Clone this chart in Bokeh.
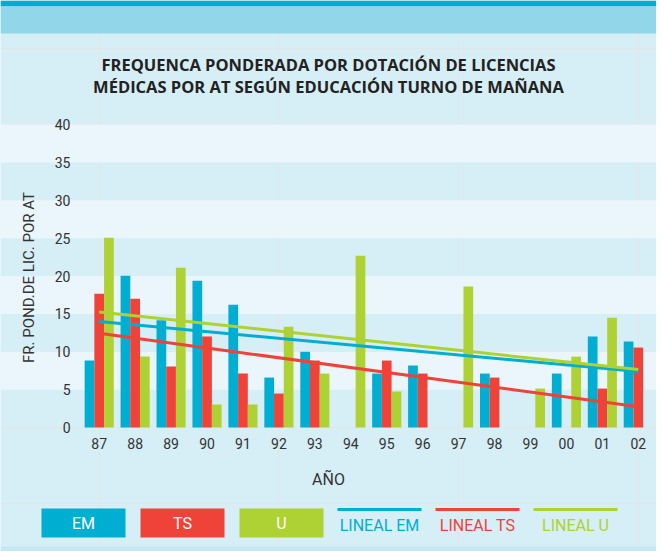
import math
from bokeh.plotting import figure
from bokeh.models import LinearAxis, FixedTicker, Grid, Range1d
from bokeh.core.properties import value
from bokeh.embed import file_html
from bokeh.resources import INLINE

# ---------------- data ----------------
years = ["87", "88", "89", "90", "91", "92", "93", "94", "95", "96", "97", "98", "99", "00", "01", "02"]
em = [8.84, 20.04, 14.15, 19.38, 16.2, 6.59, 10.0, 0, 7.12, 8.18, 0, 7.12, 0, 7.12, 12.0, 11.34]
ts = [17.67, 17.0, 8.04, 12.0, 7.12, 4.48, 8.84, 0, 8.84, 7.12, 0, 6.59, 0, 0, 5.14, 10.55]
u = [25.05, 9.36, 21.1, 3.03, 3.03, 13.3, 7.12, 22.68, 4.75, 0, 18.6, 0, 5.14, 9.36, 14.5, 0]
# linear trend lines (value at first year, value at last year)
lineal_em = [13.98, 7.38]
lineal_ts = [12.44, 2.73]
lineal_u = [15.25, 7.65]
y_ticks = [0, 5, 10, 15, 20, 25, 30, 35, 40]
series_names = ["EM", "TS", "U"]
lineal_names = ["LINEAL EM", "LINEAL TS", "LINEAL U"]

title_lines = ["FREQUENCA PONDERADA POR DOTACIÓN DE LICENCIAS",
               "MÉDICAS POR AT SEGÚN EDUCACIÓN TURNO DE MAÑANA"]
y_label = "FR. POND.DE LIC. POR AT"
x_label = "AÑO"

# ---------------- style ----------------
C_EM = "#00aed1"
C_TS = "#ef4238"
C_U = "#aed133"
PANEL = "#d6eef5"
BAND = "#eaf6fb"
TOP_DARK = "#00acd0"
TOP_LIGHT = "#91d7e9"
BOTTOM = "#c6e8f2"
FONT = "Roboto"
TXT = "#333333"

W, H = 656, 551
STEP = 35.94           # px per category
X0_PX = 98.7           # px of first category centre
Y0_PX = 427.0          # px (from top) of value 0
PX_PER_UNIT = 7.575

X0 = -X0_PX / STEP
X1 = X0 + W / STEP
Y1 = Y0_PX / PX_PER_UNIT
Y0 = Y1 - H / PX_PER_UNIT


def dx(px):
    return X0 + px / W * (X1 - X0)


def dy(py):
    return Y1 - py / H * (Y1 - Y0)


p = figure(width=W, height=H, output_backend="svg", toolbar_location=None,
           x_range=Range1d(X0, X1), y_range=Range1d(Y0, Y1),
           x_axis_location=None, y_axis_location=None,
           min_border=0, min_border_left=0, min_border_right=0,
           min_border_top=0, min_border_bottom=0)
p.outline_line_color = None
p.background_fill_color = PANEL
p.border_fill_color = PANEL

# alternating bands
grid = Grid(dimension=1, ticker=FixedTicker(ticks=y_ticks[1:]))
grid.grid_line_color = None
grid.band_fill_color = BAND
grid.band_fill_alpha = 1.0
p.add_layout(grid)

# top stripes and bottom stripe
p.quad(left=[X0], right=[X1], top=[Y1], bottom=[dy(6)], fill_color=TOP_DARK, line_color=None)
p.quad(left=[X0], right=[X1], top=[dy(6)], bottom=[dy(33)], fill_color=TOP_LIGHT, line_color=None)
p.quad(left=[X0], right=[X1], top=[dy(546)], bottom=[Y0], fill_color=BOTTOM, line_color=None)

# title
p.text(x=[dx(W / 2)] * 2, y=[dy(64), dy(86)], text=title_lines,
       text_font=value("Open Sans"), text_font_size="16.5px", text_font_style="bold",
       text_align="center", text_baseline="middle", text_color="#222222")

# bars
bw = 0.27
idx = list(range(len(years)))
for vals, off, col in [(em, -bw, C_EM), (ts, 0.0, C_TS), (u, bw, C_U)]:
    xs = [i + off for i, v in zip(idx, vals) if v > 0]
    tops = [v for v in vals if v > 0]
    p.vbar(x=xs, top=tops, bottom=0, width=bw, fill_color=col, line_color=None)

# trend lines
for tr, col in [(lineal_em, C_EM), (lineal_ts, C_TS), (lineal_u, C_U)]:
    p.line(x=[idx[0], idx[-1]], y=tr, line_color=col, line_width=3)

# axes
xaxis = LinearAxis(fixed_location=0, ticker=FixedTicker(ticks=idx),
                   major_label_overrides={i: y for i, y in zip(idx, years)})
xaxis.axis_line_color = None
xaxis.major_tick_line_color = None
xaxis.minor_tick_line_color = None
xaxis.major_tick_out = 0
xaxis.major_tick_in = 0
xaxis.major_label_standoff = 10
xaxis.major_label_text_font = FONT
xaxis.major_label_text_font_size = "14px"
xaxis.major_label_text_color = TXT
xaxis.axis_label = x_label
xaxis.axis_label_text_font = FONT
xaxis.axis_label_text_font_size = "16px"
xaxis.axis_label_text_font_style = "normal"
xaxis.axis_label_text_color = TXT
xaxis.axis_label_standoff = 18
p.add_layout(xaxis, "below")

yaxis = LinearAxis(fixed_location=dx(70), ticker=FixedTicker(ticks=y_ticks))
yaxis.axis_line_color = None
yaxis.major_tick_line_color = None
yaxis.minor_tick_line_color = None
yaxis.major_tick_out = 0
yaxis.major_tick_in = 0
yaxis.major_label_standoff = 0
yaxis.major_label_text_font = FONT
yaxis.major_label_text_font_size = "14px"
yaxis.major_label_text_color = TXT
p.add_layout(yaxis, "left")

# y-axis title
p.text(x=[dx(28)], y=[dy(277)], text=[y_label], angle=math.pi / 2,
       text_font=value(FONT), text_font_size="15px", text_align="center",
       text_baseline="middle", text_color=TXT)

# legend (drawn by hand)
box_left = [41, 140, 239]
for name, col, lft in zip(series_names, [C_EM, C_TS, C_U], box_left):
    p.quad(left=[dx(lft)], right=[dx(lft + 84)], top=[dy(508)], bottom=[dy(537)],
           fill_color=col, line_color=None)
    p.text(x=[dx(lft + 42)], y=[dy(523)], text=[name], text_font=value(FONT),
           text_font_size="16px", text_align="center", text_baseline="middle",
           text_color="white")
line_left = [337, 435, 533]
for name, col, lft in zip(lineal_names, [C_EM, C_TS, C_U], line_left):
    p.line(x=[dx(lft), dx(lft + 84)], y=[dy(509), dy(509)], line_color=col, line_width=3)
    p.text(x=[dx(lft + 42)], y=[dy(525)], text=[name], text_font=value(FONT),
           text_font_size="16px", text_align="center", text_baseline="middle",
           text_color=col)

open("out.html", "w").write(file_html(p, INLINE))
